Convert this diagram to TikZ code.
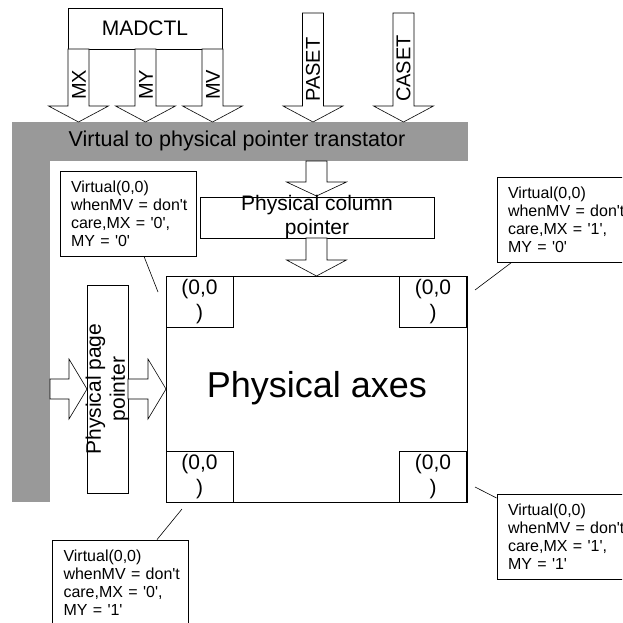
\documentclass[tikz,border=0pt]{standalone}
\usepackage{fontspec}
\setmainfont{Liberation Sans}
\definecolor{barGrey}{HTML}{999999}
\newcommand\sq{\textquotesingle}
\newcommand\blkdown[4]{% cx, ytop, yhead, ytip
  \draw[blk] ({#1-10.5},#2) -- ({#1+10.5},#2) -- ({#1+10.5},#3) -- ({#1+30},#3) -- (#1,#4) -- ({#1-30},#3) -- ({#1-10.5},#3) -- cycle;}
\newcommand\blkright[4]{% cy, xleft, xhead, xtip
  \draw[blk] (#2,{#1-10}) -- (#3,{#1-10}) -- (#3,{#1-30}) -- (#4,#1) -- (#3,{#1+30}) -- (#3,{#1+10}) -- (#2,{#1+10}) -- cycle;}
\begin{document}
\begin{tikzpicture}[x=1pt,y=-1pt,
  box/.style={draw, line width=0.8pt, fill=white, inner sep=0pt},
  blk/.style={draw, fill=white, line width=0.6pt, line join=miter},
  big/.style={font=\fontsize{21}{24}\selectfont, align=center},
  lbl/.style={font=\fontsize{20}{24}\selectfont, rotate=90, anchor=west, inner sep=0pt},
  corner/.style={box, minimum width=67, minimum height=51, align=center, font=\fontsize{21}{25}\selectfont},
  callout/.style={box, minimum height=85, inner xsep=11pt, text width=114pt, align=left, font=\fontsize{16}{18}\selectfont},
  leader/.style={draw, line width=0.6pt}]
\useasboundingbox (0,0) rectangle (622,623);
\clip (0,0) rectangle (622,623);
% grey translator bar
\fill[barGrey] (12,122) rectangle (468,161);
\fill[barGrey] (12,161) rectangle (50,502);
\node[big] (trans) at (237,141) {\fontsize{21.5}{24}\selectfont Virtual to physical pointer transtator};
% MADCTL
\node[box, big, minimum width=154, minimum height=41] (madctl) at (145,28.5) {MADCTL};
% input arrows
\blkdown{78.5}{49}{106}{122}
\blkdown{145.5}{49}{106}{122}
\blkdown{212.5}{49}{106}{122}
\blkdown{313}{13}{106}{122}
\blkdown{403.5}{13}{106}{122}
\node[lbl] (mx) at (79,100) {MX};
\node[lbl] (my) at (146,100) {MY};
\node[lbl] (mv) at (213,100) {MV};
\node[lbl] (paset) at (313,102) {PASET};
\node[lbl] (caset) at (403.5,102) {CASET};
% column pointer
\blkdown{316.5}{161}{182}{196}
\node[box, minimum width=234, minimum height=41] (colbox) at (317,217.5) {};
\node[big] (coltext) at (317,217.5) {Physical column\\pointer};
\blkdown{316.5}{238}{260}{276}
% page pointer
\node[box, minimum width=41, minimum height=208] (pagebox) at (107.5,389) {};
\node[big, rotate=90] (pagetext) at (107.5,389) {Physical page\\pointer};
\blkright{389}{50}{69}{87}
\blkright{389}{128}{148}{166}
% physical axes
\node[box, minimum width=301, minimum height=226] (axes) at (316.5,389) {};
\node[font=\fontsize{36}{40}\selectfont] (axestext) at (317,388) {Physical axes};
\node[corner] (ctl) at (199.5,301.5) {(0,0\\)};
\node[corner] (ctr) at (433,301.5) {(0,0\\)};
\node[corner] (cbl) at (199.5,477) {(0,0\\)};
\node[corner] (cbr) at (433,477) {(0,0\\)};
% callouts
\node[callout] (ntl) at (128,213.5) {Virtual(0,0)\\whenMV~=~don\sq t\\care,MX~=~\sq 0\sq,\\MY~=~\sq 0\sq};
\node[callout] (ntr) at (565,220) {Virtual(0,0)\\whenMV~=~don\sq t\\care,MX~=~\sq 1\sq,\\MY~=~\sq 0\sq};
\node[callout] (nbr) at (565,536.5) {Virtual(0,0)\\whenMV~=~don\sq t\\care,MX~=~\sq 1\sq,\\MY~=~\sq 1\sq};
\node[callout] (nbl) at (120.5,582.5) {Virtual(0,0)\\whenMV~=~don\sq t\\care,MX~=~\sq 0\sq,\\MY~=~\sq 1\sq};
% leader lines
\coordinate (ptl) at (158,292);
\coordinate (ptr) at (475,290);
\coordinate (pbr) at (475,487);
\coordinate (pbl) at (182,509);
\draw[leader] (ntl.south -| 144,0) -- (ptl);
\draw[leader] (ntr.south -| 511,0) -- (ptr);
\draw[leader] (nbr.west |- 0,498) -- (pbr);
\draw[leader] (nbl.north -| 157,0) -- (pbl);
\end{tikzpicture}
\end{document}
